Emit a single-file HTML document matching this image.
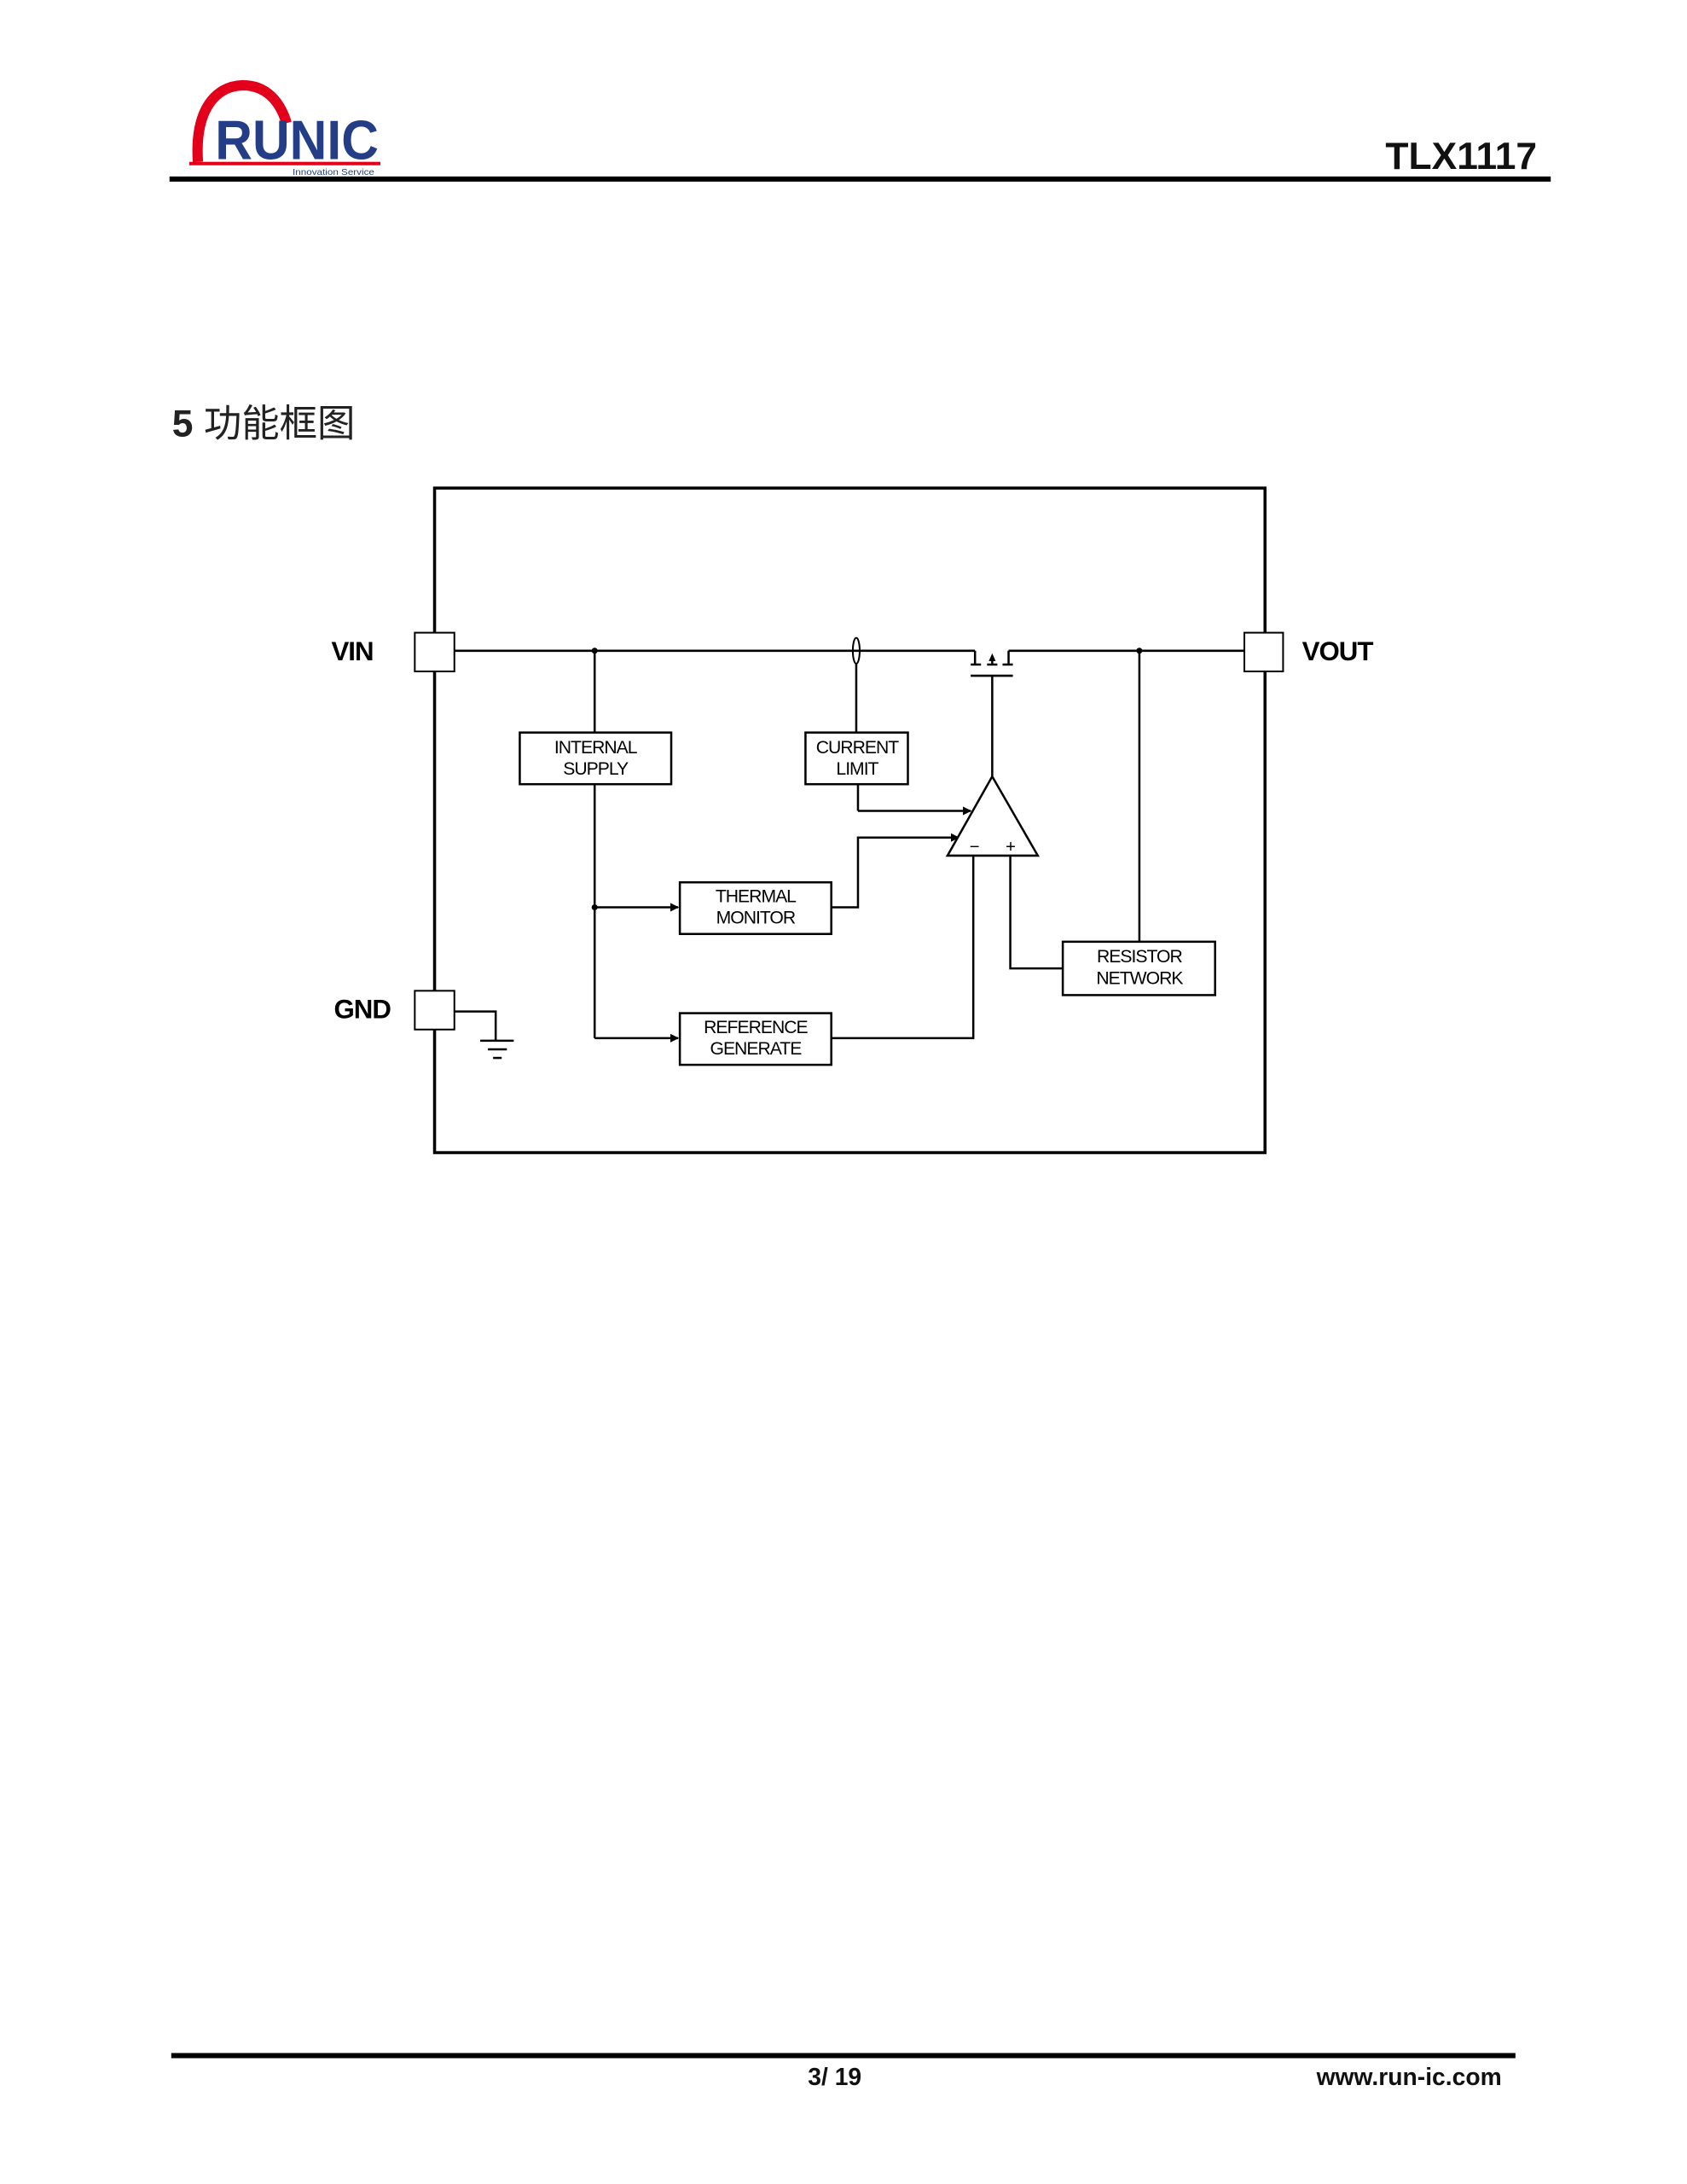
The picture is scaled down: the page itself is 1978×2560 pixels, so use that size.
<!DOCTYPE html>
<html><head><meta charset="utf-8"><style>
html,body{margin:0;padding:0;background:#fff;}
svg{display:block;}
</style></head><body>
<svg width="1978" height="2560" viewBox="0 0 1978 2560" xmlns="http://www.w3.org/2000/svg">
<defs>
<marker id="ar" markerWidth="10" markerHeight="10" refX="9" refY="5" orient="auto" markerUnits="userSpaceOnUse">
<path d="M0,0 L10,5 L0,10 z" fill="#000"/>
</marker>
</defs>
<g transform="scale(1.009)">
<!-- logo -->
<path d="M230,188 C226,128 250,100 282,99 C308,99 325,116 333,143" fill="none" stroke="#e3001b" stroke-width="12"/>
<text x="250" y="185" font-family="Liberation Sans, sans-serif" font-weight="bold" font-size="64" fill="#233e86" textLength="190" lengthAdjust="spacingAndGlyphs">RUNIC</text>
<rect x="220" y="188" width="222" height="4" fill="#e3001b"/>
<text x="340" y="203" font-family="Liberation Sans, sans-serif" font-size="10" fill="#233e86" textLength="95" lengthAdjust="spacingAndGlyphs">Innovation Service</text>
<!-- header -->
<rect x="197" y="205" width="1605" height="6" fill="#000"/>
<text x="1786" y="196" text-anchor="end" font-family="Liberation Sans, sans-serif" font-weight="bold" font-size="44" fill="#111">TLX1117</text>
<text x="200" y="507" font-family="Liberation Sans, 'Noto Sans CJK SC', sans-serif" font-size="44" fill="#222"><tspan font-weight="bold">5</tspan> 功能框图</text>

<g stroke="#000" fill="none" stroke-width="2.5">
<rect x="505" y="567" width="965" height="772" stroke-width="3.5"/>
<rect x="482" y="735" width="46" height="45" fill="#fff" stroke-width="2"/>
<rect x="1446" y="735" width="45" height="45" fill="#fff" stroke-width="2"/>
<rect x="482" y="1151" width="46" height="45" fill="#fff" stroke-width="2"/>
<line x1="528" y1="756" x2="1133" y2="756"/>
<line x1="1172" y1="756" x2="1446" y2="756"/>
<line x1="1133" y1="756" x2="1133" y2="772"/>
<line x1="1172" y1="756" x2="1172" y2="772"/>
<line x1="1128" y1="772" x2="1140" y2="772"/>
<line x1="1147" y1="772" x2="1159" y2="772"/>
<line x1="1165" y1="772" x2="1177" y2="772"/>
<line x1="1153" y1="772" x2="1153" y2="762"/>
<line x1="1128" y1="785" x2="1177" y2="785"/>
<line x1="1153" y1="785" x2="1153" y2="902"/>
<ellipse cx="995" cy="756" rx="4" ry="15" stroke-width="2"/>
<line x1="691" y1="756" x2="691" y2="851"/>
<rect x="604" y="851" width="176" height="60"/>
<line x1="691" y1="911" x2="691" y2="1206"/>
<line x1="691" y1="1054" x2="788" y2="1054" marker-end="url(#ar)"/>
<line x1="691" y1="1206" x2="788" y2="1206" marker-end="url(#ar)"/>
<line x1="995" y1="771" x2="995" y2="851"/>
<rect x="936" y="851" width="119" height="60"/>
<line x1="997" y1="911" x2="997" y2="942"/>
<line x1="997" y1="942" x2="1128" y2="942" marker-end="url(#ar)"/>
<rect x="790" y="1025" width="176" height="60"/>
<polyline points="966,1054 997,1054 997,973 1114,973" marker-end="url(#ar)"/>
<polygon points="1153,902 1101,994 1206,994" fill="#fff"/>
<polyline points="1131,994 1131,1206 966,1206"/>
<polyline points="1174,994 1174,1125 1235,1125"/>
<rect x="790" y="1177" width="176" height="60"/>
<rect x="1235" y="1094" width="177" height="62"/>
<line x1="1324" y1="756" x2="1324" y2="1094"/>
<polyline points="528,1175 576,1175 576,1209"/>
<line x1="558" y1="1209" x2="597" y2="1209"/>
<line x1="567" y1="1219" x2="589" y2="1219"/>
<line x1="573" y1="1229" x2="583" y2="1229"/>
</g>
<path d="M1153,759 L1149,768 L1157,768 z" fill="#000"/>
<circle cx="691" cy="756" r="3.5" fill="#000"/>
<circle cx="1324" cy="756" r="3.5" fill="#000"/>
<circle cx="691" cy="1054" r="3.5" fill="#000"/>
<g font-family="Liberation Sans, sans-serif" font-size="31" fill="#000" font-weight="bold">
<text x="385" y="767" letter-spacing="-1">VIN</text>
<text x="1513" y="767" letter-spacing="-1">VOUT</text>
<text x="388" y="1183" letter-spacing="-1">GND</text>
</g>
<g font-family="Liberation Sans, sans-serif" font-size="21" fill="#000" text-anchor="middle" letter-spacing="-1">
<text x="692" y="875">INTERNAL</text><text x="692" y="900">SUPPLY</text>
<text x="996" y="875">CURRENT</text><text x="996" y="900">LIMIT</text>
<text x="878" y="1048">THERMAL</text><text x="878" y="1073">MONITOR</text>
<text x="878" y="1200">REFERENCE</text><text x="878" y="1225">GENERATE</text>
<text x="1324" y="1118">RESISTOR</text><text x="1324" y="1143">NETWORK</text>
<text x="1132" y="990" font-size="20">−</text><text x="1174" y="990" font-size="20">+</text>
</g>
<rect x="199" y="2385" width="1562" height="6" fill="#000"/>
<text x="970" y="2422" text-anchor="middle" font-family="Liberation Sans, sans-serif" font-weight="bold" font-size="28" fill="#111">3/ 19</text>
<text x="1745" y="2422" text-anchor="end" font-family="Liberation Sans, sans-serif" font-weight="bold" font-size="28" fill="#111">www.run-ic.com</text>
</g>
</svg>
</body></html>
